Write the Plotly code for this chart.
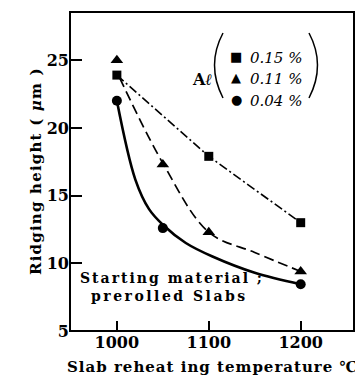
import plotly.graph_objects as go

temps_sq = [1000, 1100, 1200]
vals_sq = [23.9, 17.9, 13.0]
temps_tri = [1000, 1050, 1100, 1200]
vals_tri = [25.0, 17.3, 12.3, 9.4]
temps_cir = [1000, 1050, 1200]
vals_cir = [22.0, 12.6, 8.45]

curve_tri_x = [1003, 1050, 1100, 1150, 1200]
curve_tri_y = [23.7, 17.4, 12.3, 10.8, 9.4]
curve_cir_x = [1000, 1020, 1035, 1050, 1075, 1104, 1150, 1200]
curve_cir_y = [22.0, 16.2, 14.0, 12.85, 11.5, 10.5, 9.3, 8.45]

x_ticks = [1000, 1100, 1200]
y_ticks = [5, 10, 15, 20, 25]
legend_labels = ["0.15 %", "0.11 %", "0.04 %"]

FONT = "DejaVu Serif"
# page offset (browser body margin)
OFF = 8
PL, PT, PW, PH = 70, 12, 284, 319  # plot area in window pixels


def px(xp):
    return (xp - PL) / PW


def py(yp):
    return (PT + PH - yp) / PH


fig = go.Figure()

fig.add_trace(go.Scatter(x=temps_sq, y=vals_sq, mode="lines",
                         line=dict(color="black", width=1.6, dash="9px,3px,2px,3px")))
fig.add_trace(go.Scatter(x=curve_tri_x, y=curve_tri_y, mode="lines", line_shape="spline",
                         line=dict(color="black", width=1.7, dash="10px,5px")))
fig.add_trace(go.Scatter(x=curve_cir_x, y=curve_cir_y, mode="lines", line_shape="spline",
                         line=dict(color="black", width=2.6)))
fig.add_trace(go.Scatter(x=temps_sq, y=vals_sq, mode="markers",
                         marker=dict(symbol="square", size=9, color="black")))
fig.add_trace(go.Scatter(x=temps_tri, y=vals_tri, mode="markers",
                         marker=dict(symbol="triangle-up", size=11, color="black")))
fig.add_trace(go.Scatter(x=temps_cir, y=vals_cir, mode="markers",
                         marker=dict(symbol="circle", size=10, color="black")))

tickfont = dict(family=FONT, size=16, color="black", weight="bold")
fig.update_layout(
    width=363 - OFF, height=389 - OFF,
    margin=dict(l=PL - OFF, r=363 - PL - PW, t=PT - OFF, b=389 - PT - PH),
    paper_bgcolor="white", plot_bgcolor="white",
    showlegend=False,
    font=dict(family=FONT, color="black"),
    xaxis=dict(range=[949, 1258], tickvals=x_ticks, ticktext=[str(v) for v in x_ticks],
               ticks="inside", ticklen=10, tickwidth=1.5, tickcolor="black",
               showline=False, showgrid=False, zeroline=False, tickfont=tickfont),
    yaxis=dict(range=[5, 28.56], tickvals=y_ticks,
               ticks="inside", ticklen=12, tickwidth=1.5, tickcolor="black",
               showline=False, showgrid=False, zeroline=False, tickfont=tickfont),
    shapes=[dict(type="rect", xref="paper", yref="paper", x0=0, x1=1, y0=0, y1=1,
                 line=dict(color="black", width=2)),
            dict(type="path", xref="paper", yref="paper",
                 path=f"M {px(223)},{py(33)} Q {px(206)},{py(65)} {px(223)},{py(98)}",
                 line=dict(color="black", width=1.5)),
            dict(type="path", xref="paper", yref="paper",
                 path=f"M {px(309)},{py(33)} Q {px(326)},{py(65)} {px(309)},{py(98)}",
                 line=dict(color="black", width=1.5))],
)

# axis titles
fig.add_annotation(xref="paper", yref="paper", x=px(213), y=py(378),
                   text="<span style='letter-spacing:1px'><b>Slab reheat ing temperature ℃</b></span>",
                   showarrow=False, font=dict(family=FONT, size=15))
fig.add_annotation(xref="paper", yref="paper", x=px(25), y=py(171), textangle=-90,
                   text="<span style='letter-spacing:1.2px'><b>Ridging height ( <i>μ</i>m )</b></span>",
                   showarrow=False, font=dict(family=FONT, size=15))

# inner text
fig.add_annotation(xref="paper", yref="paper", x=px(78), y=py(288), xanchor="left",
                   text="<span style='letter-spacing:2px'><b>Starting material ;</b></span>",
                   showarrow=False, font=dict(family=FONT, size=14))
fig.add_annotation(xref="paper", yref="paper", x=px(89), y=py(306), xanchor="left",
                   text="<span style='letter-spacing:2.5px'><b>prerolled Slabs</b></span>",
                   showarrow=False, font=dict(family=FONT, size=14))

# legend block (Al with bracket)
fig.add_annotation(xref="paper", yref="paper", x=px(202), y=py(68),
                   text="<b>A<i>ℓ</i></b>", showarrow=False, font=dict(family=FONT, size=16))
row_y = [47, 68, 90]
syms = ["■", "▲", "●"]
for lab, ry, s in zip(legend_labels, row_y, syms):
    fig.add_annotation(xref="paper", yref="paper", x=px(236), y=py(ry),
                       text=s, showarrow=False, font=dict(family="DejaVu Sans", size=13))
    fig.add_annotation(xref="paper", yref="paper", x=px(248), y=py(ry),
                       xanchor="left", text="<i>" + lab + "</i>", showarrow=False,
                       font=dict(family=FONT, size=15))

fig.write_html("out.html")
